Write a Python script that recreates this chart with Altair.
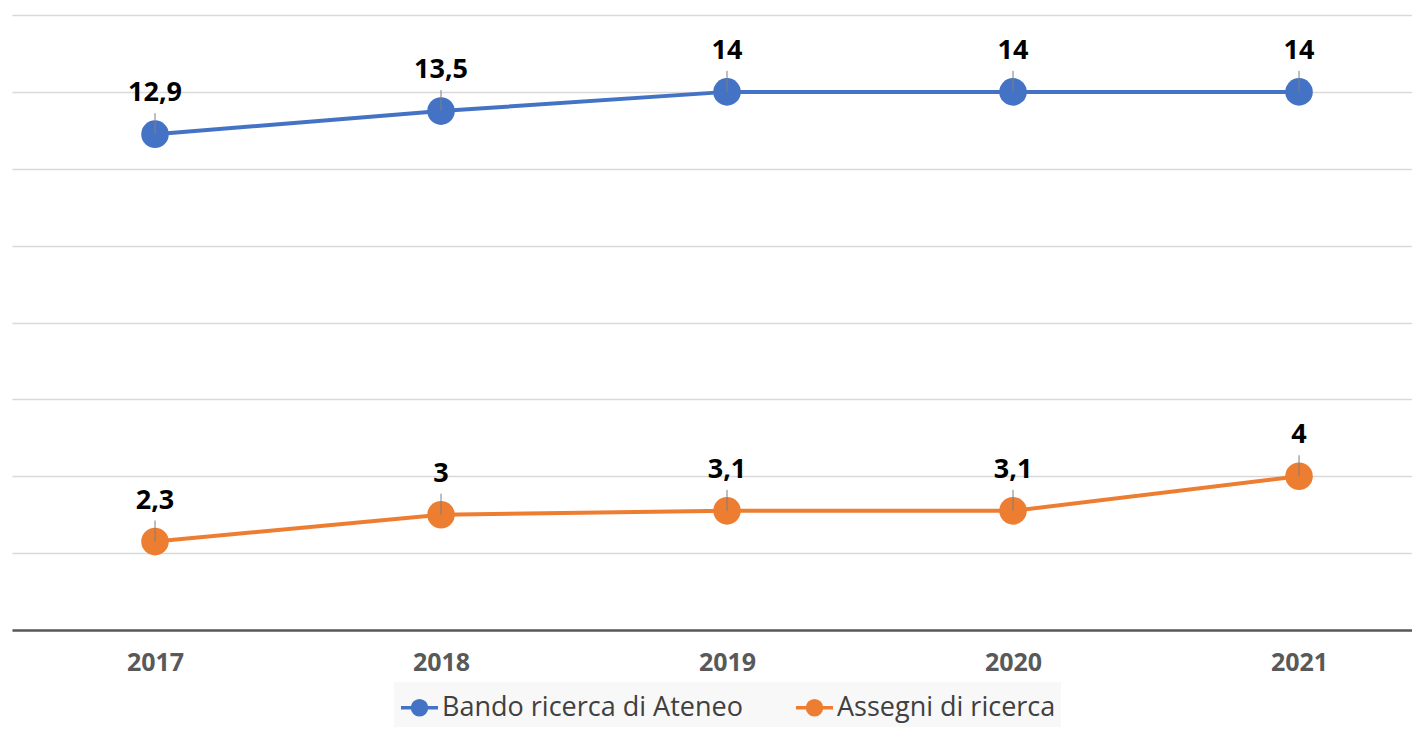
import altair as alt
import pandas as pd

years = [2017, 2018, 2019, 2020, 2021]
bando = [12.9, 13.5, 14, 14, 14]
assegni = [2.3, 3, 3.1, 3.1, 4]
bando_labels = ["12,9", "13,5", "14", "14", "14"]
assegni_labels = ["2,3", "3", "3,1", "3,1", "4"]
series = ["Bando ricerca di Ateneo", "Assegni di ricerca"]
colors = ["#4472C4", "#ED7D31"]
grid_values = [0, 2, 4, 6, 8, 10, 12, 14, 16]

rows = []
for yr, v, lab in zip(years, bando, bando_labels):
    rows.append({"anno": yr, "valore": v, "etichetta": lab, "serie": series[0]})
for yr, v, lab in zip(years, assegni, assegni_labels):
    rows.append({"anno": yr, "valore": v, "etichetta": lab, "serie": series[1]})
df = pd.DataFrame(rows)

FONT = "Open Sans"

x = alt.X(
    "anno:Q",
    scale=alt.Scale(domain=[2016.5, 2021.395], nice=False, zero=False),
    axis=alt.Axis(
        values=years, format="d", title=None, grid=False, ticks=False,
        labelFont=FONT, labelFontWeight="bold", labelFontSize=25,
        labelColor="#595959", labelPadding=20, labelFlush=False,
        domainColor="#595959", domainWidth=2.5,
    ),
)
y = alt.Y(
    "valore:Q",
    scale=alt.Scale(domain=[0, 16], nice=False),
    axis=alt.Axis(
        values=grid_values, labels=False, ticks=False, domain=False,
        title=None, gridColor="#d9d9d9", gridWidth=1.5,
    ),
)
color = alt.Color(
    "serie:N",
    scale=alt.Scale(domain=series, range=colors),
    legend=alt.Legend(
        title=None, orient="none", legendX=382, legendY=667,
        direction="horizontal", fillColor="#f8f8f8", padding=5,
        labelFont=FONT, labelFontSize=27, labelColor="#404040",
        labelOffset=2, columnPadding=46, labelLimit=0,
        symbolType="M-1,0H1M-0.38,0A0.38,0.38 0 1,1 0.38,0A0.38,0.38 0 1,1 -0.38,0Z",
        symbolSize=1369, symbolStrokeWidth=3.5,
    ),
)

base = alt.Chart(df)
line = base.mark_line(strokeWidth=4).encode(x=x, y=y, color=color)
pts = base.mark_point(filled=True, size=760, opacity=1).encode(x=x, y=y, color=color)
leader = base.mark_rule(color="#7f7f7f", strokeWidth=1, y2Offset=-21).encode(
    x=x, y=y, y2="valore:Q"
)
labels = base.mark_text(
    font=FONT, fontWeight="bold", fontSize=27, color="#000000",
    baseline="alphabetic", dy=-33,
).encode(x=x, y=y, text="etichetta:N")

chart = (
    alt.layer(line, pts, leader, labels)
    .properties(
        width=1400, height=615,
        autosize=alt.AutoSizeParams(type="none"),
        padding={"left": 4, "top": 7, "right": 0, "bottom": 99},
    )
    .configure_view(strokeWidth=0)
)

chart.save("out.html", embed_options={"renderer": "svg", "actions": False})
